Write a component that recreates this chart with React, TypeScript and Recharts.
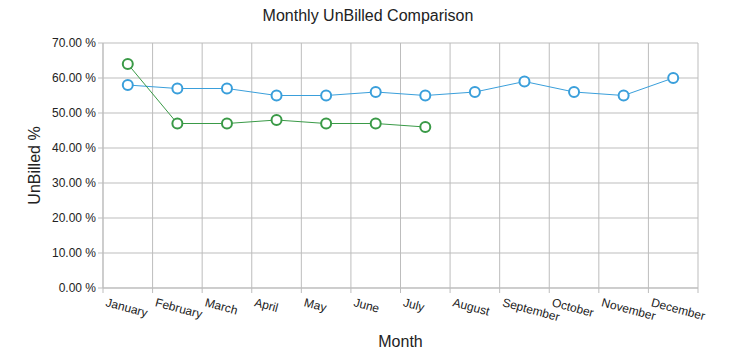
import { CartesianGrid, Line, LineChart, XAxis, YAxis } from "recharts";

const MONTHS = [
  "January",
  "February",
  "March",
  "April",
  "May",
  "June",
  "July",
  "August",
  "September",
  "October",
  "November",
  "December",
];

const SERIES_A = [58, 57, 57, 55, 55, 56, 55, 56, 59, 56, 55, 60];
const SERIES_B = [64, 47, 47, 48, 47, 47, 46, null, null, null, null, null];

const Y_TICKS = [0, 10, 20, 30, 40, 50, 60, 70];
const X_TICKS = [0, 1, 2, 3, 4, 5, 6, 7, 8, 9, 10, 11, 12];

const FONT = "'Liberation Sans', Arial, sans-serif";

// points sit in the middle of each month band, gridlines on the band edges
const chartData = MONTHS.map((m, i) => ({
  x: i + 0.5,
  month: m,
  a: SERIES_A[i],
  b: SERIES_B[i],
}));

const MonthTick = (props: any) => {
  const { x, y, payload } = props;
  const label = MONTHS[payload.value];
  if (!label) return null;
  const tx = x + 2;
  const ty = y + 11;
  return (
    <text
      x={tx}
      y={ty}
      transform={`rotate(15, ${tx}, ${ty})`}
      textAnchor="start"
      fontSize={12}
      fontFamily={FONT}
      fill="#222"
    >
      {label}
    </text>
  );
};

export default function App() {
  return (
    <div style={{ position: "relative", margin: "-8px 0 0 -8px", width: 736, height: 353, fontFamily: FONT }}>
      <div
        style={{
          position: "absolute",
          top: 7,
          left: 0,
          width: 736,
          textAlign: "center",
          fontSize: 16,
          color: "#222",
        }}
      >
        Monthly UnBilled Comparison
      </div>
      <LineChart
        width={736}
        height={353}
        data={chartData}
        margin={{ top: 43, right: 38, bottom: 0, left: 0 }}
      >
        <CartesianGrid stroke="#bdbdbd" vertical horizontal />
        <XAxis
          type="number"
          dataKey="x"
          domain={[0, 12]}
          ticks={X_TICKS}
          interval={0}
          height={65}
          tick={<MonthTick />}
          tickLine={{ stroke: "#bdbdbd" }}
          axisLine={{ stroke: "#bdbdbd" }}
          tickSize={5}
          label={{
            value: "Month",
            position: "insideBottom",
            offset: 6,
            fontSize: 16,
            fill: "#222",
            fontFamily: FONT,
          }}
        />
        <YAxis
          type="number"
          domain={[0, 70]}
          ticks={Y_TICKS}
          width={103}
          tickFormatter={(v: number) => `${v.toFixed(2)} %`}
          tick={{ fontSize: 12, fill: "#222", fontFamily: FONT }}
          tickLine={{ stroke: "#bdbdbd" }}
          axisLine={{ stroke: "#bdbdbd" }}
          tickSize={5}
          label={{
            value: "UnBilled %",
            angle: -90,
            position: "insideLeft",
            offset: 34,
            fontSize: 16,
            fill: "#222",
            fontFamily: FONT,
            style: { textAnchor: "middle" },
          }}
        />
        <Line
          type="linear"
          dataKey="a"
          stroke="#3a9fdb"
          strokeWidth={1}
          dot={{ r: 5, fill: "#fff", stroke: "#3a9fdb", strokeWidth: 2 }}
          activeDot={false}
          isAnimationActive={false}
        />
        <Line
          type="linear"
          dataKey="b"
          stroke="#3a9a47"
          strokeWidth={1}
          dot={{ r: 5, fill: "#fff", stroke: "#3a9a47", strokeWidth: 2 }}
          activeDot={false}
          isAnimationActive={false}
        />
      </LineChart>
    </div>
  );
}
